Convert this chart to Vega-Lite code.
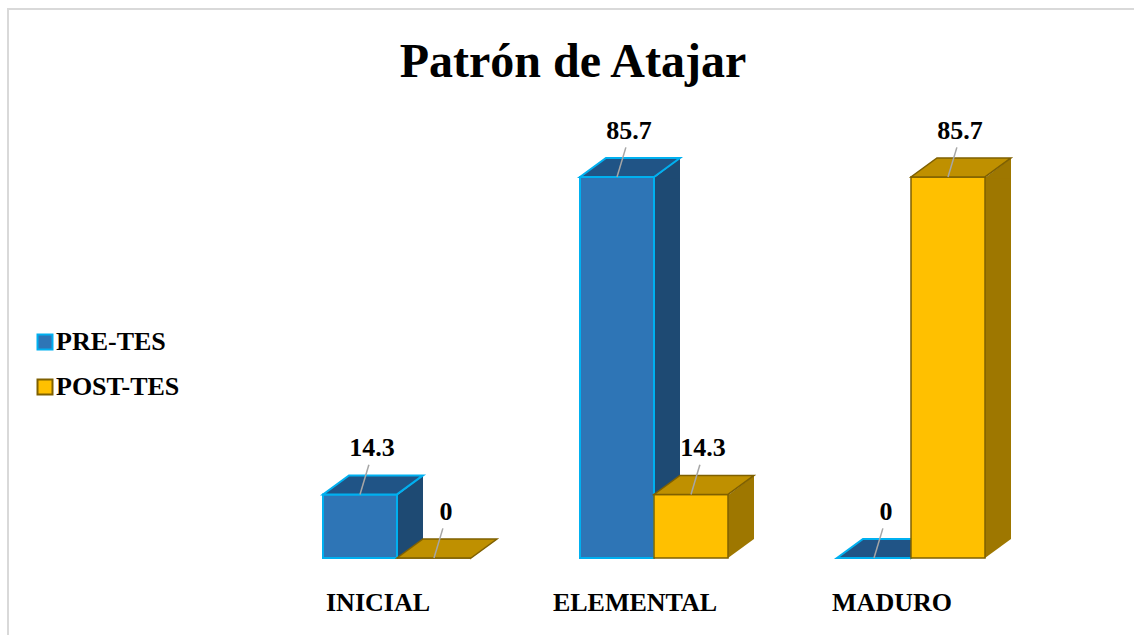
{
  "$schema": "https://vega.github.io/schema/vega-lite/v6.json",
  "width": 1130,
  "height": 630,
  "autosize": "none",
  "padding": {"left": 8, "top": 9, "right": 0, "bottom": 0},
  "background": "white",
  "config": {"view": {"stroke": "#D9D9D9", "strokeWidth": 2}, "font": "Liberation Serif"},
  "title": {"text": "Patrón de Atajar", "fontSize": 48, "font": "Liberation Serif", "fontWeight": "bold", "color": "black", "anchor": "middle", "frame": "group", "offset": -116, "baseline": "alphabetic"},
  "data": {"values": [
    {"categoria": "INICIAL", "serie": "PRE-TES", "valor": 14.3},
    {"categoria": "INICIAL", "serie": "POST-TES", "valor": 0},
    {"categoria": "ELEMENTAL", "serie": "PRE-TES", "valor": 85.7},
    {"categoria": "ELEMENTAL", "serie": "POST-TES", "valor": 14.3},
    {"categoria": "MADURO", "serie": "PRE-TES", "valor": 0},
    {"categoria": "MADURO", "serie": "POST-TES", "valor": 85.7}
  ]},
  "encoding": {
    "x": {"field": "categoria", "type": "nominal", "sort": ["INICIAL", "ELEMENTAL", "MADURO"],
      "scale": {"range": [260.5, 1031.5], "paddingInner": 0, "paddingOuter": 0},
      "axis": {"title": null, "orient": "bottom", "domain": false, "ticks": false, "grid": false, "labelAngle": 0, "labelFont": "Liberation Serif", "labelFontSize": 26, "labelFontWeight": "bold", "labelColor": "black", "labelOffset": -19, "offset": -52, "labelPadding": 2}},
    "y": {"field": "valor", "type": "quantitative", "scale": {"domain": [0, 100], "range": [549, 104.4]}, "axis": null}
  },
  "resolve": {"scale": {"xOffset": "independent"}},
  "layer": [
    {
      "transform": [{"filter": "datum.serie == 'PRE-TES'"}],
      "resolve": {"scale": {"xOffset": "independent"}},
      "layer": [
        {"mark": {"type": "bar", "fill": "#1E4A73"},
         "encoding": {"xOffset": {"field": "serie", "type": "nominal", "scale": {"domain": ["PRE-TES", "POST-TES"], "range": [128.5, 228.5], "paddingInner": 0.6486, "paddingOuter": 0}}}},
        {"mark": {"type": "point", "shape": "M0.99,0.02L1.351,-0.257L1.351,0.02Z", "size": 21904, "filled": true, "fill": "#1E4A73", "strokeWidth": 0, "opacity": 1},
         "encoding": {"xOffset": {"field": "serie", "type": "nominal", "scale": {"type": "point", "domain": ["PRE-TES", "POST-TES"], "range": [54.5, 128.5], "padding": 0}}}},
        {"mark": {"type": "point", "shape": "M1,0L1.351,-0.257L1.38,-0.257L1.38,0.04L1,0.04Z", "size": 21904, "filled": true, "fill": "white", "strokeWidth": 0, "opacity": 1},
         "encoding": {"y": {"datum": 0, "type": "quantitative"}, "xOffset": {"field": "serie", "type": "nominal", "scale": {"type": "point", "domain": ["PRE-TES", "POST-TES"], "range": [54.5, 128.5], "padding": 0}}}},
        {"mark": {"type": "bar", "strokeWidth": 2},
         "encoding": {
           "xOffset": {"field": "serie", "type": "nominal", "scale": {"domain": ["PRE-TES", "POST-TES"], "range": [54.5, 202.5], "paddingInner": 0, "paddingOuter": 0}},
           "color": {"field": "serie", "type": "nominal", "scale": {"domain": ["PRE-TES", "POST-TES"], "range": ["#2E75B6", "#FFC000"]},
             "legend": {"orient": "none", "legendX": 24, "legendY": 320, "title": null, "symbolType": "square", "symbolSize": 225, "symbolStrokeWidth": 2, "labelFont": "Liberation Serif", "labelFontSize": 26, "labelFontWeight": "bold", "labelColor": "black", "rowPadding": 19, "labelOffset": -2, "padding": 0}},
           "stroke": {"field": "serie", "type": "nominal", "scale": {"domain": ["PRE-TES", "POST-TES"], "range": ["#00B0F0", "#7F6000"]},
             "legend": {"orient": "none", "legendX": 24, "legendY": 320, "title": null, "symbolType": "square", "symbolSize": 225, "symbolStrokeWidth": 2, "labelFont": "Liberation Serif", "labelFontSize": 26, "labelFontWeight": "bold", "labelColor": "black", "rowPadding": 19, "labelOffset": -2, "padding": 0}}
         }},
        {"mark": {"type": "point", "shape": "M0,0L1,0L1.351,-0.257L0.351,-0.257Z", "size": 21904, "filled": true, "fill": "#205486", "stroke": "#00B0F0", "strokeWidth": 2, "opacity": 1},
         "encoding": {"xOffset": {"field": "serie", "type": "nominal", "scale": {"type": "point", "domain": ["PRE-TES", "POST-TES"], "range": [54.5, 128.5], "padding": 0}}}}
      ]
    },
    {
      "transform": [{"filter": "datum.serie == 'POST-TES'"}],
      "resolve": {"scale": {"xOffset": "independent"}},
      "layer": [
        {"mark": {"type": "bar", "fill": "#9E7700"},
         "encoding": {"xOffset": {"field": "serie", "type": "nominal", "scale": {"domain": ["PRE-TES", "POST-TES"], "range": [128.5, 228.5], "paddingInner": 0.6486, "paddingOuter": 0}}}},
        {"mark": {"type": "point", "shape": "M0.99,0.02L1.351,-0.257L1.351,0.02Z", "size": 21904, "filled": true, "fill": "#9E7700", "strokeWidth": 0, "opacity": 1},
         "encoding": {"xOffset": {"field": "serie", "type": "nominal", "scale": {"type": "point", "domain": ["PRE-TES", "POST-TES"], "range": [54.5, 128.5], "padding": 0}}}},
        {"mark": {"type": "point", "shape": "M1,0L1.351,-0.257L1.38,-0.257L1.38,0.04L1,0.04Z", "size": 21904, "filled": true, "fill": "white", "strokeWidth": 0, "opacity": 1},
         "encoding": {"y": {"datum": 0, "type": "quantitative"}, "xOffset": {"field": "serie", "type": "nominal", "scale": {"type": "point", "domain": ["PRE-TES", "POST-TES"], "range": [54.5, 128.5], "padding": 0}}}},
        {"mark": {"type": "bar", "strokeWidth": 1.5},
         "encoding": {
           "xOffset": {"field": "serie", "type": "nominal", "scale": {"domain": ["PRE-TES", "POST-TES"], "range": [54.5, 202.5], "paddingInner": 0, "paddingOuter": 0}},
           "color": {"field": "serie", "type": "nominal", "scale": {"domain": ["PRE-TES", "POST-TES"], "range": ["#2E75B6", "#FFC000"]},
             "legend": {"orient": "none", "legendX": 24, "legendY": 320, "title": null, "symbolType": "square", "symbolSize": 225, "symbolStrokeWidth": 2, "labelFont": "Liberation Serif", "labelFontSize": 26, "labelFontWeight": "bold", "labelColor": "black", "rowPadding": 19, "labelOffset": -2, "padding": 0}},
           "stroke": {"field": "serie", "type": "nominal", "scale": {"domain": ["PRE-TES", "POST-TES"], "range": ["#00B0F0", "#7F6000"]},
             "legend": {"orient": "none", "legendX": 24, "legendY": 320, "title": null, "symbolType": "square", "symbolSize": 225, "symbolStrokeWidth": 2, "labelFont": "Liberation Serif", "labelFontSize": 26, "labelFontWeight": "bold", "labelColor": "black", "rowPadding": 19, "labelOffset": -2, "padding": 0}}
         }},
        {"mark": {"type": "point", "shape": "M0,0L1,0L1.351,-0.257L0.351,-0.257Z", "size": 21904, "filled": true, "fill": "#BF9000", "stroke": "#7F6000", "strokeWidth": 1.5, "opacity": 1},
         "encoding": {"xOffset": {"field": "serie", "type": "nominal", "scale": {"type": "point", "domain": ["PRE-TES", "POST-TES"], "range": [54.5, 128.5], "padding": 0}}}}
      ]
    },
    {"mark": {"type": "point", "shape": "M0.5,0L0.62,-0.4", "size": 21904, "filled": false, "stroke": "#A6A6A6", "strokeWidth": 1.5, "opacity": 1},
     "encoding": {"xOffset": {"field": "serie", "type": "nominal", "scale": {"type": "point", "domain": ["PRE-TES", "POST-TES"], "range": [54.5, 128.5], "padding": 0}}}},
    {"mark": {"type": "text", "font": "Liberation Serif", "fontSize": 26, "fontWeight": "bold", "color": "black", "align": "center", "baseline": "alphabetic", "dx": 49, "dy": -38},
     "encoding": {
       "xOffset": {"field": "serie", "type": "nominal", "scale": {"type": "point", "domain": ["PRE-TES", "POST-TES"], "range": [54.5, 128.5], "padding": 0}},
       "text": {"field": "valor", "type": "quantitative", "format": ".1~f"}
     }}
  ]
}
